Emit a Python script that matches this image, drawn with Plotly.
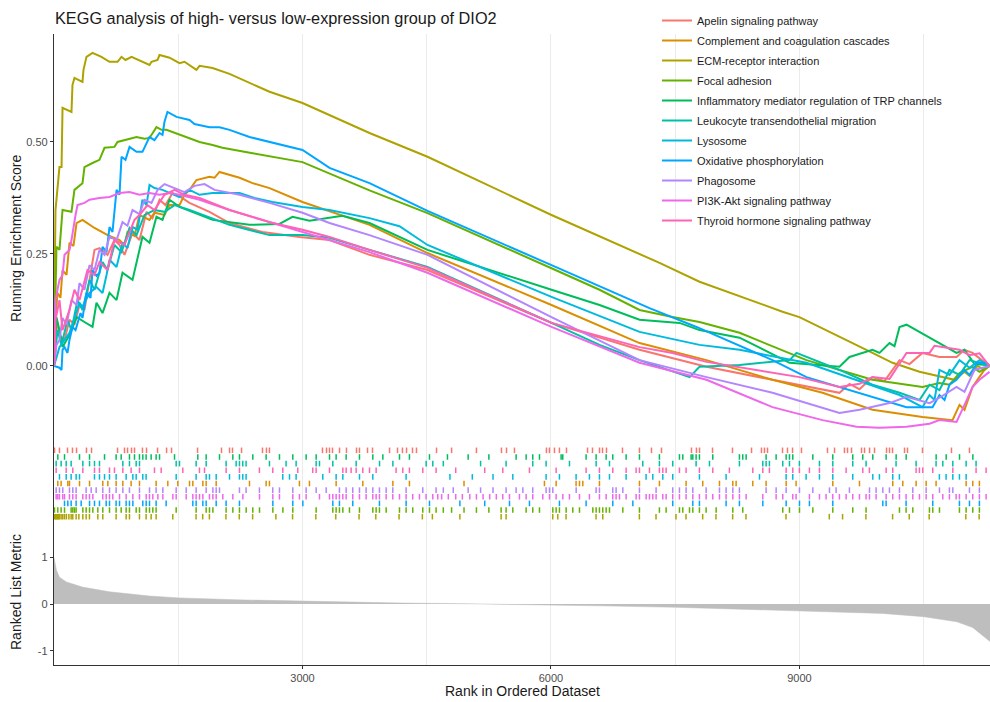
import plotly.graph_objects as go
from plotly.subplots import make_subplots

# ---------------- data ----------------
set_names = [
    "Apelin signaling pathway",
    "Complement and coagulation cascades",
    "ECM-receptor interaction",
    "Focal adhesion",
    "Inflammatory mediator regulation of TRP channels",
    "Leukocyte transendothelial migration",
    "Lysosome",
    "Oxidative phosphorylation",
    "Phagosome",
    "PI3K-Akt signaling pathway",
    "Thyroid hormone signaling pathway",
]
set_colors = ["#F8766D", "#DB8E00", "#AEA200", "#64B200", "#00BD5C", "#00C1A7",
              "#00BADE", "#00A6FF", "#B385FF", "#EF67EB", "#FF63B6"]

n_genes = 11300

# running enrichment score curves (rank, score)
apelin_rank = [0, 30, 66, 127, 187, 247, 308, 368, 429, 489, 549, 646, 730, 791, 851, 948, 1032, 1117, 1189, 1274, 1346, 1431, 1515, 1636, 1877, 2119, 2517, 2964, 3326, 3809, 4509, 6006, 7069, 7877, 8674, 9483, 9604, 9725, 9881, 10026, 10208, 10328, 10485, 10690, 10896, 10992, 11089, 11294]
apelin_es = [0.0, 0.103, 0.069, 0.058, 0.103, 0.092, 0.136, 0.125, 0.192, 0.259, 0.263, 0.248, 0.281, 0.270, 0.248, 0.297, 0.281, 0.344, 0.330, 0.371, 0.359, 0.386, 0.379, 0.364, 0.344, 0.319, 0.299, 0.288, 0.281, 0.248, 0.214, 0.096, 0.036, -0.002, -0.031, -0.060, -0.040, -0.052, -0.025, -0.034, 0.013, 0.004, 0.029, 0.020, 0.020, 0.036, 0.029, 0.0]

comp_rank = [0, 18, 42, 78, 103, 151, 187, 235, 272, 344, 489, 670, 791, 851, 887, 972, 1032, 1153, 1213, 1334, 1395, 1515, 1575, 1636, 1720, 1877, 1938, 1998, 2240, 2397, 2602, 3000, 3809, 4509, 6006, 7069, 7877, 8674, 9278, 9881, 10485, 10847, 10932, 10992, 11089, 11173, 11257, 11294]
comp_es = [0.0, 0.103, 0.163, 0.152, 0.214, 0.203, 0.275, 0.268, 0.319, 0.326, 0.308, 0.290, 0.281, 0.270, 0.299, 0.290, 0.337, 0.326, 0.342, 0.337, 0.359, 0.359, 0.382, 0.393, 0.415, 0.422, 0.420, 0.433, 0.420, 0.408, 0.397, 0.366, 0.315, 0.252, 0.136, 0.051, 0.013, -0.031, -0.060, -0.098, -0.114, -0.121, -0.087, -0.098, -0.047, -0.025, -0.002, 0.0]

ecm_rank = [0, 18, 66, 91, 103, 211, 223, 247, 344, 356, 392, 465, 573, 646, 670, 767, 815, 863, 936, 1153, 1177, 1250, 1274, 1395, 1515, 1575, 1720, 1757, 1914, 2119, 2602, 3000, 3809, 4509, 6006, 7310, 7793, 8795, 8999, 9881, 10123, 10449, 10872, 10992, 11053, 11149, 11233, 11294]
ecm_es = [0.05, 0.348, 0.444, 0.444, 0.576, 0.567, 0.627, 0.643, 0.634, 0.661, 0.690, 0.699, 0.690, 0.683, 0.679, 0.679, 0.690, 0.683, 0.690, 0.672, 0.679, 0.683, 0.694, 0.688, 0.676, 0.679, 0.661, 0.670, 0.665, 0.652, 0.612, 0.587, 0.520, 0.467, 0.337, 0.230, 0.188, 0.121, 0.109, 0.029, 0.007, -0.013, -0.031, -0.013, -0.022, 0.000, -0.009, 0.0]

focal_rank = [0, 18, 30, 66, 103, 211, 247, 344, 368, 465, 549, 610, 730, 767, 851, 996, 1093, 1153, 1237, 1298, 1358, 1455, 1515, 1757, 1914, 2034, 2397, 3000, 3809, 4509, 6006, 6586, 7069, 7467, 7793, 8276, 9084, 9881, 10485, 10690, 10811, 10932, 11089, 11173, 11294]
focal_es = [0.0, 0.147, 0.266, 0.259, 0.348, 0.344, 0.393, 0.408, 0.444, 0.453, 0.460, 0.487, 0.489, 0.500, 0.504, 0.511, 0.507, 0.509, 0.533, 0.527, 0.527, 0.520, 0.516, 0.500, 0.493, 0.487, 0.475, 0.455, 0.392, 0.341, 0.218, 0.170, 0.125, 0.109, 0.098, 0.074, 0.013, -0.031, -0.047, -0.038, -0.042, -0.016, -0.002, -0.013, 0.0]

inflam_rank = [0, 30, 66, 103, 187, 272, 368, 465, 513, 586, 670, 755, 827, 948, 1068, 1153, 1237, 1310, 1395, 1515, 1914, 2360, 2722, 2879, 3085, 3483, 3809, 4509, 6006, 6586, 7069, 7552, 7793, 8276, 8880, 9483, 9604, 9881, 9966, 10087, 10147, 10208, 10292, 10896, 10992, 11113, 11257, 11294]
inflam_es = [0.0, 0.109, 0.080, 0.042, 0.069, 0.109, 0.098, 0.087, 0.141, 0.118, 0.163, 0.147, 0.208, 0.192, 0.288, 0.275, 0.333, 0.326, 0.371, 0.355, 0.326, 0.315, 0.317, 0.333, 0.324, 0.335, 0.319, 0.259, 0.170, 0.136, 0.103, 0.096, 0.080, 0.063, 0.007, -0.002, 0.020, 0.036, 0.029, 0.051, 0.044, 0.087, 0.092, 0.029, 0.036, 0.004, 0.002, 0.0]

leuk_rank = [0, 42, 91, 163, 211, 284, 344, 429, 489, 586, 646, 730, 815, 912, 996, 1093, 1213, 1334, 1455, 1636, 2119, 2602, 3000, 3326, 3809, 4509, 6006, 6586, 7069, 7673, 7793, 8276, 8880, 8964, 9483, 9881, 10208, 10449, 10570, 10690, 10811, 10932, 11053, 11173, 11294]
leuk_es = [0.0, 0.080, 0.047, 0.103, 0.080, 0.147, 0.125, 0.192, 0.170, 0.232, 0.214, 0.270, 0.254, 0.308, 0.292, 0.337, 0.348, 0.344, 0.359, 0.348, 0.315, 0.292, 0.292, 0.286, 0.259, 0.221, 0.096, 0.047, 0.013, -0.025, -0.002, 0.002, 0.013, 0.029, -0.009, -0.042, -0.060, -0.076, -0.042, -0.054, -0.009, -0.020, 0.013, 0.007, 0.0]

lyso_rank = [0, 42, 66, 127, 187, 247, 308, 344, 429, 513, 586, 634, 670, 755, 827, 887, 948, 1008, 1068, 1117, 1153, 1213, 1310, 1515, 1636, 1757, 1914, 2240, 2420, 2638, 3000, 3326, 3809, 4171, 4509, 6006, 7069, 7793, 8276, 9084, 9688, 10208, 10485, 10570, 10630, 10690, 10811, 10932, 11053, 11173, 11294]
lyso_es = [0.0, 0.025, 0.042, 0.058, 0.074, 0.107, 0.141, 0.132, 0.163, 0.176, 0.163, 0.203, 0.237, 0.221, 0.275, 0.263, 0.310, 0.304, 0.371, 0.359, 0.404, 0.397, 0.393, 0.377, 0.393, 0.382, 0.386, 0.386, 0.375, 0.366, 0.355, 0.348, 0.330, 0.312, 0.270, 0.154, 0.076, 0.047, 0.036, 0.007, -0.031, -0.065, -0.092, -0.065, -0.076, -0.009, -0.020, 0.013, -0.004, 0.013, 0.0]

oxph_rank = [0, 66, 91, 103, 127, 163, 187, 223, 260, 320, 344, 392, 441, 465, 513, 549, 586, 634, 670, 706, 755, 791, 815, 863, 912, 996, 1068, 1153, 1213, 1274, 1310, 1334, 1370, 1479, 1636, 1696, 1877, 1998, 2119, 2360, 3000, 3326, 3809, 4509, 6006, 7189, 7756, 8674, 9084, 9483, 9881, 10292, 10606, 10690, 10751, 10811, 10896, 10992, 11053, 11149, 11257, 11294]
oxph_es = [0.0, -0.004, -0.009, 0.036, 0.042, 0.029, 0.058, 0.087, 0.080, 0.118, 0.107, 0.163, 0.152, 0.214, 0.201, 0.208, 0.266, 0.254, 0.310, 0.299, 0.393, 0.382, 0.467, 0.460, 0.489, 0.478, 0.478, 0.511, 0.504, 0.520, 0.516, 0.545, 0.567, 0.556, 0.549, 0.540, 0.533, 0.533, 0.527, 0.511, 0.482, 0.442, 0.408, 0.346, 0.225, 0.129, 0.087, 0.013, -0.025, -0.047, -0.069, -0.092, -0.092, -0.065, -0.076, -0.042, -0.031, -0.009, -0.020, 0.007, 0.007, 0.0]

phago_rank = [0, 30, 66, 103, 151, 211, 272, 308, 368, 429, 489, 549, 610, 670, 755, 827, 887, 948, 1032, 1093, 1177, 1250, 1334, 1455, 1575, 1696, 1817, 1938, 2240, 2602, 3000, 3326, 3809, 4509, 6006, 7069, 7877, 8674, 9483, 9725, 9881, 10087, 10292, 10570, 10690, 10896, 10992, 11113, 11294]
phago_es = [0.0, 0.047, 0.058, 0.107, 0.092, 0.147, 0.136, 0.185, 0.170, 0.225, 0.214, 0.259, 0.248, 0.288, 0.281, 0.321, 0.313, 0.348, 0.339, 0.371, 0.364, 0.393, 0.406, 0.397, 0.388, 0.402, 0.406, 0.393, 0.382, 0.364, 0.342, 0.319, 0.292, 0.248, 0.109, 0.013, -0.025, -0.060, -0.105, -0.098, -0.092, -0.083, -0.069, -0.083, -0.071, -0.047, -0.058, -0.009, 0.0]

pi3k_rank = [0, 18, 42, 66, 103, 127, 187, 211, 260, 284, 368, 429, 549, 670, 791, 912, 1032, 1153, 1274, 1395, 1515, 1757, 2119, 2602, 3000, 3326, 3809, 4509, 6006, 7069, 7877, 8674, 9278, 9688, 9966, 10292, 10570, 10690, 10896, 10992, 11089, 11173, 11294]
pi3k_es = [0.0, 0.147, 0.170, 0.192, 0.203, 0.248, 0.259, 0.281, 0.337, 0.359, 0.364, 0.371, 0.375, 0.377, 0.386, 0.388, 0.382, 0.386, 0.382, 0.386, 0.382, 0.371, 0.348, 0.321, 0.299, 0.281, 0.254, 0.208, 0.087, 0.007, -0.031, -0.092, -0.121, -0.136, -0.138, -0.136, -0.129, -0.121, -0.125, -0.087, -0.047, -0.031, -0.013]

thyroid_rank = [0, 18, 66, 103, 187, 247, 308, 404, 489, 549, 646, 730, 851, 972, 1032, 1129, 1213, 1334, 1455, 1575, 1757, 2119, 2602, 3000, 3326, 3809, 4509, 6006, 7069, 7467, 7877, 8674, 8999, 9483, 9725, 9881, 10087, 10292, 10570, 10630, 10932, 11053, 11173, 11294]
thyroid_es = [0.0, 0.103, 0.147, 0.080, 0.125, 0.170, 0.147, 0.214, 0.203, 0.232, 0.214, 0.281, 0.270, 0.326, 0.337, 0.359, 0.348, 0.382, 0.393, 0.382, 0.375, 0.348, 0.321, 0.304, 0.288, 0.259, 0.219, 0.096, 0.042, 0.029, 0.009, -0.016, -0.025, -0.047, -0.040, -0.025, -0.029, 0.029, 0.029, 0.045, 0.036, 0.024, 0.028, 0.0]

# gene-set hit positions (rank in ordered dataset)
apelin_hits = [6, 66, 163, 223, 272, 392, 453, 767, 851, 888, 936, 972, 1068, 1117, 1250, 1359, 1419, 1733, 2022, 2119, 2155, 2264, 2517, 2565, 2601, 3241, 3290, 3326, 3362, 3447, 3531, 3652, 3688, 3785, 3845, 4051, 4147, 4207, 4256, 4328, 4376, 4618, 4800, 5100, 5402, 5463, 5559, 5945, 5981, 6042, 6102, 6187, 6441, 6501, 6586, 6622, 6670, 6863, 7068, 7213, 7334, 7696, 7756, 7793, 7950, 8191, 8421, 8541, 8577, 8614, 8795, 8855, 8916, 9024, 9338, 9423, 9543, 9580, 9628, 9749, 9785, 9846, 9906, 10051, 10087, 10123, 10268, 10304, 10485, 10835, 11052]
comp_hits = [46, 86, 167, 187, 308, 429, 589, 650, 750, 831, 931, 1032, 1233, 1374, 1495, 1636, 1676, 1797, 1837, 1958, 2360, 2561, 2601, 2963, 3084, 3406, 3728, 4091, 4291, 4950, 5921, 6062, 6303, 6344, 6384, 6585, 7068, 7309, 7631, 7832, 8034, 8195, 8235, 8436, 8597, 8839, 8959, 9402, 9724, 10126, 10247, 10408, 10529, 10649, 11012, 11092, 11172]
ecm_hits = [6, 16, 26, 36, 46, 56, 66, 86, 106, 127, 150, 180, 207, 227, 267, 300, 348, 388, 428, 529, 589, 750, 871, 911, 1032, 1112, 1173, 1233, 1434, 1715, 1795, 1876, 2076, 2237, 2398, 2679, 2880, 3161, 3402, 3683, 3885, 4166, 4447, 4568, 4900, 5398, 5458, 6021, 6082, 6182, 6544, 6625, 7067, 7268, 7509, 7630, 7831, 7992, 8193, 8354, 8837, 9360, 9520, 9802, 10124, 10325, 10566, 11008, 11169]
focal_hits = [6, 46, 86, 127, 207, 227, 247, 267, 348, 388, 429, 469, 529, 589, 670, 750, 811, 871, 911, 992, 1032, 1113, 1153, 1193, 1233, 1475, 1716, 1837, 1877, 1918, 2078, 2159, 2239, 2320, 2400, 2481, 2642, 2763, 2883, 3165, 3366, 3406, 3446, 3487, 3567, 3688, 3849, 3889, 3929, 4010, 4171, 4251, 4331, 4452, 4533, 4613, 4700, 4800, 4950, 5100, 5250, 5398, 5458, 5539, 5700, 5780, 5861, 6022, 6062, 6102, 6183, 6263, 6344, 6505, 6545, 6585, 6625, 6666, 6706, 6867, 7068, 7309, 7390, 7551, 7591, 7672, 7712, 7792, 7873, 7994, 8195, 8315, 8798, 8879, 9000, 9161, 9402, 9643, 9804, 10207, 10287, 10368, 10569, 10609, 10690, 10931, 11012, 11092, 11172]
inflam_hits = [46, 127, 308, 429, 610, 750, 811, 911, 972, 1032, 1072, 1112, 1173, 1233, 1274, 1455, 1736, 1837, 1998, 2159, 2239, 2400, 2561, 2722, 2883, 3044, 3165, 3326, 3406, 3527, 3688, 3849, 3970, 4171, 4291, 4533, 4750, 5000, 5250, 5579, 5700, 5780, 5861, 6122, 6142, 6424, 6545, 6666, 6746, 6907, 7068, 7309, 7551, 7591, 7692, 7712, 7752, 7792, 7953, 8275, 8315, 8356, 8597, 8718, 8839, 8879, 8919, 9161, 9402, 9643, 9764, 9885, 10046, 10167, 10288, 10650, 10771, 10932, 11093]
leuk_hits = [26, 86, 147, 207, 348, 429, 489, 549, 831, 911, 992, 1032, 1475, 1515, 1716, 1837, 2078, 2199, 2239, 2279, 2319, 2601, 2802, 2923, 3165, 3205, 3366, 3648, 3930, 4091, 4493, 4573, 4700, 5150, 5458, 5780, 5941, 6223, 6545, 6706, 7108, 7309, 7470, 7752, 7913, 8275, 8557, 8597, 8637, 8798, 8879, 8999, 9241, 9402, 9643, 9804, 10166, 10408, 10649, 10730, 10851, 11012, 11132]
lyso_hits = [66, 147, 207, 267, 308, 489, 549, 610, 670, 750, 871, 952, 992, 1072, 1112, 1475, 1716, 1837, 1877, 1958, 2119, 2239, 2279, 2319, 2762, 2843, 2923, 3245, 3406, 3487, 3688, 3849, 4251, 4780, 5050, 5300, 5539, 5941, 6102, 6303, 6464, 6585, 6706, 6907, 7148, 7229, 7350, 7470, 7792, 8114, 8517, 8839, 8919, 9080, 9241, 9402, 9643, 9885, 9965, 10126, 10206, 10689, 10770, 10851, 10931, 11012]
oxph_hits = [127, 167, 207, 267, 328, 429, 489, 549, 630, 670, 750, 791, 871, 911, 952, 1072, 1113, 1153, 1233, 1354, 1676, 1716, 1797, 1837, 1958, 2078, 2239, 2642, 2883, 3004, 3366, 3446, 3607, 3929, 4251, 4533, 4900, 5200, 5499, 5740, 6102, 6424, 6746, 6988, 7470, 7712, 7792, 8114, 8275, 8557, 8839, 9000, 9120, 9402, 10006, 10046, 10287, 10609, 10931, 11052, 11172]
phago_hits = [26, 66, 106, 187, 227, 267, 388, 449, 509, 589, 670, 750, 831, 911, 1032, 1153, 1233, 1314, 1475, 1596, 1716, 1837, 1918, 1958, 1998, 2239, 2319, 2480, 2641, 2722, 2883, 3044, 3165, 3286, 3446, 3527, 3607, 3688, 3768, 3849, 3929, 4010, 4090, 4251, 4452, 4613, 4700, 4820, 5000, 5150, 5300, 5458, 5579, 5660, 5780, 5941, 5982, 6022, 6304, 6545, 6585, 6746, 6786, 6867, 7068, 7269, 7470, 7551, 7631, 7712, 7873, 8034, 8114, 8195, 8275, 8597, 8718, 8839, 9000, 9161, 9362, 9442, 9603, 9845, 9925, 10006, 10086, 10207, 10368, 10529, 10690, 10810, 10851, 11052, 11172]
pi3k_hits = [26, 46, 66, 106, 127, 187, 227, 267, 348, 388, 429, 469, 589, 630, 670, 710, 791, 871, 952, 1032, 1113, 1153, 1193, 1254, 1314, 1435, 1475, 1596, 1676, 1716, 1757, 1797, 1877, 1918, 1958, 2038, 2159, 2280, 2481, 2642, 2722, 2883, 2963, 3044, 3205, 3326, 3366, 3406, 3446, 3487, 3527, 3607, 3688, 3768, 3849, 3889, 3929, 4010, 4090, 4171, 4251, 4331, 4412, 4492, 4573, 4633, 4680, 4760, 4850, 4930, 5020, 5100, 5180, 5260, 5340, 5418, 5499, 5619, 5700, 5780, 5901, 5982, 6062, 6143, 6223, 6344, 6464, 6585, 6666, 6746, 6786, 6827, 6907, 7028, 7068, 7149, 7189, 7229, 7269, 7350, 7390, 7470, 7551, 7631, 7712, 7792, 7873, 7953, 8034, 8114, 8195, 8275, 8356, 8557, 8718, 8798, 8919, 8959, 9120, 9241, 9321, 9402, 9482, 9563, 9643, 9724, 9804, 9845, 9925, 10046, 10126, 10207, 10287, 10368, 10448, 10529, 10609, 10730, 10810, 10891, 10931, 11012, 11092, 11172, 11253]
thyroid_hits = [26, 147, 227, 348, 489, 549, 670, 730, 831, 931, 1032, 1213, 1294, 1555, 1756, 1817, 2078, 2239, 2480, 2641, 2762, 2943, 3124, 3165, 3326, 3487, 3527, 3587, 3648, 3728, 3809, 3889, 4130, 4211, 4291, 4452, 4613, 4850, 5200, 5418, 5740, 6062, 6424, 6585, 6746, 6907, 7028, 7068, 7189, 7309, 7350, 7390, 7551, 7631, 7792, 7953, 8154, 8436, 8557, 8637, 8839, 8919, 8999, 9120, 9241, 9402, 9563, 9764, 9844, 10046, 10126, 10408, 10448, 10488, 10609, 10851, 11132, 11253]

# ranked list metric (rank, value)
metric_rank = [0, 15, 30, 66, 150, 344, 670, 1153, 1515, 2200, 3000, 3326, 4200, 5000, 5500, 6000, 6600, 7500, 9000, 10000, 10500, 10900, 11090, 11180, 11250, 11300]
metric_value = [0.99, 0.85, 0.72, 0.57, 0.47, 0.36, 0.26, 0.17, 0.13, 0.09, 0.06, 0.045, 0.02, 0.005, -0.005, -0.02, -0.04, -0.07, -0.14, -0.20, -0.27, -0.38, -0.50, -0.62, -0.72, -0.80]

# tick labels
es_ticks = [0.0, 0.25, 0.5]
es_tick_labels = ["0.00", "0.25", "0.50"]
metric_ticks = [-1, 0, 1]
metric_tick_labels = ["-1", "0", "1"]
rank_ticks = [3000, 6000, 9000]
rank_tick_labels = ["3000", "6000", "9000"]
rank_minor = [1500, 4500, 7500, 10500]

curves = [
    (apelin_rank, apelin_es), (comp_rank, comp_es), (ecm_rank, ecm_es),
    (focal_rank, focal_es), (inflam_rank, inflam_es), (leuk_rank, leuk_es),
    (lyso_rank, lyso_es), (oxph_rank, oxph_es), (phago_rank, phago_es),
    (pi3k_rank, pi3k_es), (thyroid_rank, thyroid_es),
]
hits = [apelin_hits, comp_hits, ecm_hits, focal_hits, inflam_hits, leuk_hits,
        lyso_hits, oxph_hits, phago_hits, pi3k_hits, thyroid_hits]
# rug row of each set, counted from the bottom
rug_row = [10, 5, 0, 1, 9, 8, 6, 2, 4, 3, 7]

# ---------------- figure ----------------
H_TOP, H_RUG, H_BOT = 413, 73, 145
tot = H_TOP + H_RUG + H_BOT
fig = make_subplots(rows=3, cols=1, shared_xaxes=True, vertical_spacing=0,
                    row_heights=[H_TOP / tot, H_RUG / tot, H_BOT / tot])

for name, col, (rx, ry) in zip(set_names, set_colors, curves):
    fig.add_trace(go.Scatter(x=rx, y=ry, mode="lines", name=name, legendgroup=name,
                             line=dict(color=col, width=2), hoverinfo="skip"),
                  row=1, col=1)

for name, col, hh, r in zip(set_names, set_colors, hits, rug_row):
    xs, ys = [], []
    for h in hh:
        xs += [h, h, None]
        ys += [r + 0.08, r + 0.92, None]
    fig.add_trace(go.Scatter(x=xs, y=ys, mode="lines", showlegend=False, legendgroup=name,
                             line=dict(color=col, width=1.5), hoverinfo="skip"),
                  row=2, col=1)

fig.add_trace(go.Scatter(x=metric_rank, y=metric_value, mode="lines", fill="tozeroy",
                         fillcolor="#BEBEBE", line=dict(color="#BEBEBE", width=0.5),
                         showlegend=False, hoverinfo="skip"), row=3, col=1)

FONT = "Liberation Sans, Arial, sans-serif"
grid = "#EBEBEB"
axis_col = "#333333"
xcommon = dict(range=[0, n_genes], tickvals=rank_ticks, ticktext=rank_tick_labels,
               showgrid=True, gridcolor=grid, gridwidth=1, zeroline=False,
               minor=dict(tickvals=rank_minor, showgrid=True, gridcolor=grid, gridwidth=1, ticks=""))
fig.update_xaxes(**xcommon)
fig.update_xaxes(showticklabels=False, ticks="", showline=False, row=1, col=1)
fig.update_xaxes(showticklabels=False, ticks="", showline=False, row=2, col=1)
fig.update_xaxes(showline=True, linecolor=axis_col, linewidth=1.3, ticks="outside",
                 ticklen=3, tickcolor=axis_col, tickwidth=1,
                 tickfont=dict(size=11, color="#4D4D4D", family=FONT), row=3, col=1)

yline = dict(showline=True, linecolor=axis_col, linewidth=1.3, showgrid=False, zeroline=False)
fig.update_yaxes(range=[-0.181, 0.741], tickvals=es_ticks, ticktext=es_tick_labels,
                 ticks="outside", ticklen=3, tickcolor=axis_col,
                 tickfont=dict(size=11, color="#4D4D4D", family=FONT), **yline, row=1, col=1)
fig.update_yaxes(range=[0, 11], showticklabels=False, ticks="", **yline, row=2, col=1)
fig.update_yaxes(range=[-1.30, 1.79], tickvals=metric_ticks, ticktext=metric_tick_labels,
                 ticks="outside", ticklen=3, tickcolor=axis_col,
                 tickfont=dict(size=11, color="#4D4D4D", family=FONT), **yline, row=3, col=1)

ML, MT, MB = 54, 34, 37
PW, PH = 990 - ML, 702 - MT - MB
fig.add_annotation(text="Running Enrichment Score", textangle=-90, xref="paper", yref="paper",
                   x=(16 - ML) / PW, y=(665 - 238) / PH, xanchor="center", yanchor="middle",
                   showarrow=False, font=dict(size=14, color="#1A1A1A", family=FONT))
fig.add_annotation(text="Ranked List Metric", textangle=-90, xref="paper", yref="paper",
                   x=(16 - ML) / PW, y=(665 - 592) / PH, xanchor="center", yanchor="middle",
                   showarrow=False, font=dict(size=14, color="#1A1A1A", family=FONT))
fig.add_annotation(text="Rank in Ordered Dataset", xref="paper", yref="paper",
                   x=0.5, y=(665 - 691) / PH, xanchor="center", yanchor="middle",
                   showarrow=False, font=dict(size=14, color="#1A1A1A", family=FONT))

fig.update_layout(
    width=990, height=702,
    margin=dict(l=ML, r=0, t=MT, b=MB),
    paper_bgcolor="white", plot_bgcolor="white",
    font=dict(family=FONT, color="#1A1A1A"),
    title=dict(text="KEGG analysis of high- versus low-expression group of DIO2",
               x=55 / 990, xanchor="left", y=1 - 18 / 702, yanchor="middle",
               font=dict(size=16.3, color="#1A1A1A", family=FONT)),
    showlegend=True,
    legend=dict(x=(657 - ML) / PW, y=(665 - 6) / PH, xanchor="left", yanchor="top",
                bgcolor="rgba(0,0,0,0)", font=dict(size=11, color="#1A1A1A", family=FONT),
                itemwidth=30, tracegroupgap=1),
)

fig.write_html("out.html")
